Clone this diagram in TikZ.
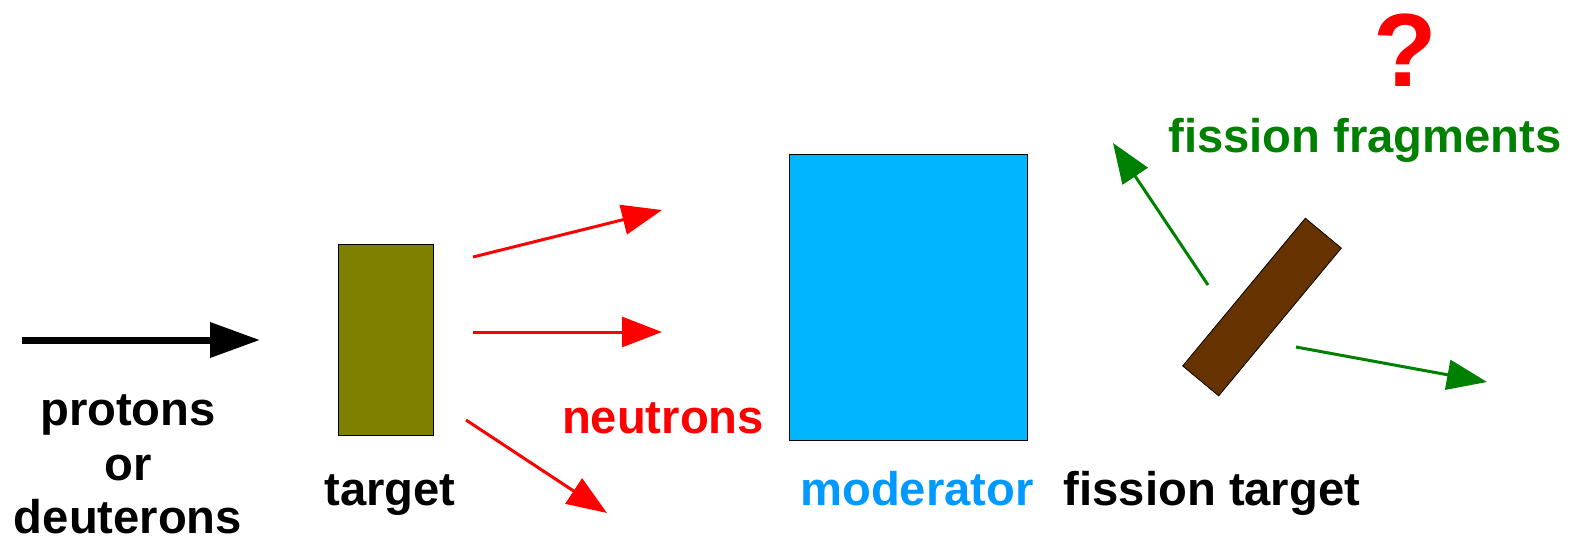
\documentclass[tikz,border=0pt]{standalone}
\usepackage{fontspec}
\setmainfont{Liberation Sans}
\usetikzlibrary{positioning, arrows.meta}
\definecolor{targetolive}{RGB}{128,128,0}
\definecolor{modblue}{RGB}{0,183,255}
\definecolor{modtext}{RGB}{0,153,255}
\definecolor{fisbrown}{RGB}{102,51,0}
\definecolor{fraggreen}{RGB}{0,128,0}
\tikzset{
  label/.style    = {font=\fontsize{23.6}{27}\selectfont\bfseries, anchor=base, inner sep=0pt, align=center},
  block/.style    = {draw=black, line width=0.4pt, inner sep=0pt},
  beam/.style     = {line width=3.5pt, -{Triangle[length=25pt, width=17pt]}},
  neutron/.style  = {red, line width=1.5pt, -{Triangle[length=20pt, width=15pt]}},
  fragment/.style = {fraggreen, line width=1.5pt, -{Triangle[length=20pt, width=15pt]}}
}

\begin{document}
\begin{tikzpicture}[x=0.5pt, y=-0.5pt]
  \useasboundingbox (0,0) rectangle (1580,543);
  % beam
  \coordinate (beamstart) at (22,340);
  \coordinate (beamend)   at (260,340);
  \draw[beam] (beamstart) -- (beamend);
  \node[label] (protons) at (128,425) {protons};
  \node[label] (or)      at (128,480) {or};
  \node[label] (deut)    at (128,533) {deuterons};

  % target
  \node[block, fill=targetolive, minimum width=47.5pt, minimum height=95.5pt] (target) at (385.5,339.5) {};
  \node[label] (targetlbl) at (390,505) {target};

  % neutrons
  \coordinate (n1s) at (473,257);  \coordinate (n1e) at (662,210);
  \coordinate (n2s) at (473,332);  \coordinate (n2e) at (662,332);
  \coordinate (n3s) at (466,420);  \coordinate (n3e) at (607,513);
  \draw[neutron] (n1s) -- (n1e);
  \draw[neutron] (n2s) -- (n2e);
  \draw[neutron] (n3s) -- (n3e);
  \node[label, red] (neutrons) at (663,433) {neutrons};

  % moderator
  \node[block, fill=modblue, minimum width=119pt, minimum height=143pt] (moderator) at (908,297) {};
  \node[label, modtext] (modlbl) at (917,505) {moderator};

  % fission target
  \node[block, fill=fisbrown, minimum width=96pt, minimum height=23.4pt, rotate=50.3] (fistarget) at (1262,307) {};
  \node[label] (fislbl) at (1212,505) {fission target};

  % fragments
  \coordinate (f1s) at (1208,285); \coordinate (f1e) at (1113,143);
  \coordinate (f2s) at (1296,347); \coordinate (f2e) at (1487,382);
  \draw[fragment] (f1s) -- (f1e);
  \draw[fragment] (f2s) -- (f2e);
  \node[label, fraggreen] (fraglbl) at (1365,152) {fission fragments};
  \node[label, red, font=\fontsize{52}{60}\selectfont\bfseries] (question) at (1405,86) {?};
\end{tikzpicture}
\end{document}
